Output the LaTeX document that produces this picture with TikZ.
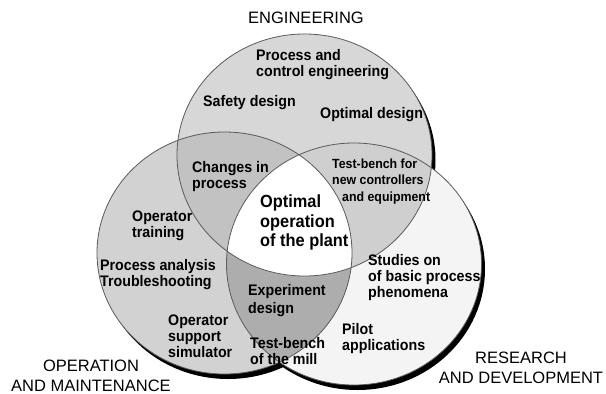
\documentclass[tikz,border=0pt]{standalone}
\usepackage{fontspec}
\setmainfont{Liberation Sans}
\newfontfamily\venntext{Liberation Sans}[FakeStretch=0.93]

\definecolor{enggray}{HTML}{D7D7D7}
\definecolor{opgray}{HTML}{D2D2D2}
\definecolor{resgray}{HTML}{F4F4F4}
\definecolor{eogray}{HTML}{C2C2C2}
\definecolor{ergray}{HTML}{CFCFCF}
\definecolor{orgray}{HTML}{ADADAD}
\definecolor{rimgray}{HTML}{5A5A5A}

\tikzset{
        vennsize/.style={x radius=127.5pt, y radius=121pt},
        topic/.style={font=\venntext\bfseries\fontsize{15.3}{16}\selectfont,
                align=left, anchor=west, inner sep=0pt},
        heading/.style={font=\fontsize{16.5}{20}\selectfont, align=center, inner sep=0pt},
        rim/.style={draw=rimgray, line width=0.8pt}
}

\begin{document}
\begin{tikzpicture}[x=1pt, y=-1pt]
        \useasboundingbox (0,0) rectangle (606,394);
        \coordinate (E) at (304.5,155); %engineering
        \coordinate (O) at (224.5,253); %operation
        \coordinate (R) at (354,264);   %research

        \foreach \c in {E,O,R}
                \fill[black] ([shift={(3.5,5)}]\c) ellipse [vennsize]; %shadows
        \fill[enggray] (E) ellipse [vennsize];
        \fill[opgray] (O) ellipse [vennsize];
        \fill[resgray] (R) ellipse [vennsize];
        \begin{scope}
                \clip (O) ellipse [vennsize];
                \fill[orgray] (R) ellipse [vennsize];
        \end{scope}
        \begin{scope}
                \clip (E) ellipse [vennsize];
                \fill[eogray] (O) ellipse [vennsize];
                \fill[ergray] (R) ellipse [vennsize];
                \clip (O) ellipse [vennsize];
                \fill[white] (R) ellipse [vennsize]; %all three
        \end{scope}
        \foreach \c in {E,O,R}
                \draw[rim] (\c) ellipse [vennsize];

        \draw (306,18) node[heading] (eng) {ENGINEERING};
        \draw (91,376) node[heading] (op) {OPERATION\\AND MAINTENANCE};
        \draw (521,368) node[heading] (res) {RESEARCH\\AND DEVELOPMENT};

        \draw (256,64.5) node[topic] (pce) {Process and\\control engineering};
        \draw (203,103) node[topic] (safety) {Safety design};
        \draw (320,115) node[topic] (optdes) {Optimal design};
        \draw (192,176.5) node[topic] (changes) {Changes in\\process};
        \draw (332,181.5) node[topic, font=\venntext\bfseries\fontsize{13.3}{16.5}\selectfont] (bench) {Test-bench for\\new controllers\\\hspace*{10pt}and equipment};
        \draw (260,222.5) node[topic, font=\venntext\bfseries\fontsize{17.6}{19.5}\selectfont] (optop) {Optimal\\operation\\of the plant};
        \draw (132,225.5) node[topic] (training) {Operator\\training};
        \draw (100,275) node[topic] (analysis) {Process analysis\\Troubleshooting};
        \draw (248,301) node[topic] (exp) {Experiment\\[2pt]design};
        \draw (168,336) node[topic] (sim) {Operator\\support\\simulator};
        \draw (250,351) node[topic] (mill) {Test-bench\\of the mill};
        \draw (368,278) node[topic] (studies) {Studies on\\of basic process\\phenomena};
        \draw (342,338.5) node[topic] (pilot) {Pilot\\applications};
\end{tikzpicture}
\end{document}
